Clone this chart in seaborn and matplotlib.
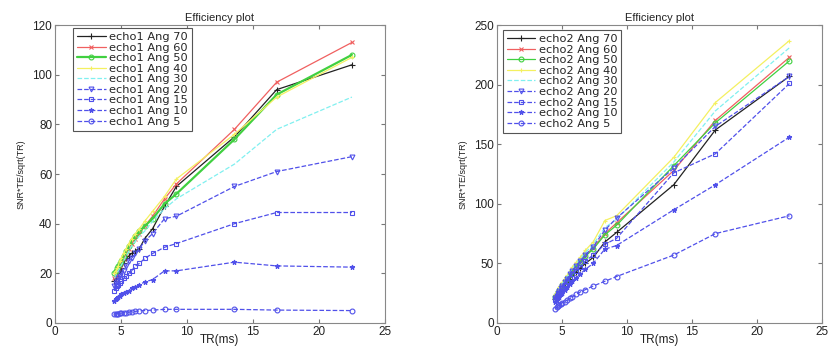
import matplotlib
matplotlib.use("Agg")
import matplotlib.pyplot as plt
import seaborn as sns
import numpy as np

TR = [4.5, 4.6, 4.7, 4.8, 4.9, 5.0, 5.2, 5.4, 5.6, 5.8, 6.1, 6.4, 6.8, 7.4, 8.3, 9.2, 13.6, 16.8, 22.5]
angles = [70, 60, 50, 40, 30, 20, 15, 10, 5]

echo1_ang70 = [17, 18, 19, 20, 21, 22, 24, 26, 27, 28, 29, 30, 34, 38, 47, 55, 75, 94, 104]
echo1_ang60 = [18, 19, 20, 22, 23, 24, 26, 28, 30, 32, 34, 36, 39, 43, 50, 56, 78, 97, 113]
echo1_ang50 = [20, 21, 22, 23, 24, 25, 27, 29, 31, 33, 35, 37, 39, 42, 48, 52, 74, 92, 108]
echo1_ang40 = [20, 21, 22, 23, 25, 26, 28, 30, 32, 34, 36, 38, 41, 45, 51, 58, 76, 91, 107]
echo1_ang30 = [18, 19, 20, 21, 22, 23, 25, 27, 29, 31, 33, 35, 37, 41, 46, 50, 64, 78, 91]
echo1_ang20 = [15, 16, 17, 18, 19, 20, 21, 23, 25, 26, 28, 30, 33, 36, 42, 43, 55, 61, 67]
echo1_ang15 = [13, 14, 15, 15.5, 16, 17, 18, 19, 20, 21, 23, 24, 26, 28, 30.5, 32, 40, 44.5, 44.5]
echo1_ang10 = [9, 9.5, 10, 10.5, 11, 11.5, 12, 12.5, 13, 14, 14.5, 15.5, 16.5, 17.5, 21, 21, 24.5, 23, 22.5]
echo1_ang5 = [3.5, 3.6, 3.7, 3.8, 3.9, 4.0, 4.1, 4.2, 4.4, 4.5, 4.7, 4.9, 5.0, 5.2, 5.5, 5.5, 5.5, 5.2, 5.0]

echo2_ang70 = [20, 21, 23, 25, 26, 28, 31, 34, 37, 40, 43, 46, 50, 55, 68, 76, 116, 162, 207]
echo2_ang60 = [22, 24, 26, 28, 30, 32, 35, 38, 41, 44, 48, 52, 57, 63, 75, 84, 128, 170, 223]
echo2_ang50 = [22, 24, 26, 28, 30, 32, 35, 38, 41, 44, 47, 51, 56, 62, 74, 82, 132, 168, 220]
echo2_ang40 = [24, 26, 28, 30, 32, 34, 37, 40, 43, 47, 51, 55, 61, 68, 86, 90, 139, 185, 237]
echo2_ang30 = [23, 25, 27, 29, 31, 33, 36, 39, 42, 46, 50, 54, 59, 66, 80, 87, 135, 178, 231]
echo2_ang20 = [21, 23, 25, 27, 29, 31, 34, 37, 41, 44, 48, 52, 57, 64, 78, 88, 130, 165, 207]
echo2_ang15 = [20, 22, 24, 25, 27, 29, 32, 35, 38, 41, 44, 47, 52, 57, 66, 71, 126, 142, 201]
echo2_ang10 = [18, 19, 21, 22, 24, 25, 28, 30, 33, 35, 38, 41, 45, 50, 62, 65, 95, 116, 156]
echo2_ang5 = [12, 13, 14, 15, 16, 17, 18, 19, 21, 22, 24, 26, 28, 31, 35, 39, 57, 75, 90]

echo1 = [echo1_ang70, echo1_ang60, echo1_ang50, echo1_ang40, echo1_ang30,
         echo1_ang20, echo1_ang15, echo1_ang10, echo1_ang5]
echo2 = [echo2_ang70, echo2_ang60, echo2_ang50, echo2_ang40, echo2_ang30,
         echo2_ang20, echo2_ang15, echo2_ang10, echo2_ang5]

blue = "#5050ea"
styles = [
    dict(color="#222222", ls="-", marker="+", ms=4, mfc="none"),
    dict(color="#f06060", ls="-", marker="x", ms=2.5, mfc="none"),
    dict(color="#40d040", ls="-", marker="o", ms=3.5, mfc="none"),
    dict(color="#f4f060", ls="-", marker="+", ms=3, mfc="none"),
    dict(color="#80f0f0", ls="--", marker=None, ms=0, mfc="none"),
    dict(color=blue, ls="--", marker="v", ms=3.5, mfc="none"),
    dict(color=blue, ls="--", marker="s", ms=3.5, mfc="none"),
    dict(color=blue, ls="--", marker="*", ms=3.5, mfc=blue),
    dict(color=blue, ls="--", marker="o", ms=3.5, mfc="none"),
]

sns.set_style("ticks")
plt.rcParams["font.family"] = ["Liberation Sans", "DejaVu Sans"]

fig = plt.figure(figsize=(8.29, 3.46), dpi=100)
ax1 = fig.add_axes([0.0663, 0.0665, 0.398, 0.861])
ax2 = fig.add_axes([0.5995, 0.0665, 0.392, 0.861])

for ax, data, name, ymax, yt, anchor in [
        (ax1, echo1, "echo1", 120, range(0, 121, 20), (0.055, 0.99)),
        (ax2, echo2, "echo2", 250, range(0, 251, 50), (0.018, 0.983))]:
    for ang, vals, st in zip(angles, data, styles):
        lw = 1.6 if (st["color"] == "#40d040" and name == "echo1") else 0.9
        sns.lineplot(x=TR, y=vals, ax=ax, color=st["color"], linestyle=st["ls"],
                     marker=st["marker"], markersize=st["ms"], markerfacecolor=st["mfc"],
                     markeredgecolor=st["color"], markeredgewidth=0.8, linewidth=lw,
                     label=f"{name} Ang {ang}", estimator=None, sort=False)
    ax.set_xlim(0, 25)
    ax.set_ylim(0, ymax)
    ax.set_xticks(range(0, 26, 5))
    ax.set_yticks(list(yt))
    ax.tick_params(direction="in", length=3, labelsize=8.5, color="#777777",
                   top=True, right=True, pad=2, labelcolor="#222222")
    for s in ax.spines.values():
        s.set_visible(True)
        s.set_color("#888888")
        s.set_linewidth(0.8)
    ax.set_title("Efficiency plot", fontsize=8, pad=3, color="#222222")
    ax.set_xlabel("TR(ms)", fontsize=8.5, color="#222222")
    ax.xaxis.set_label_coords(0.5, -0.037)
    ax.set_ylabel("SNR*TE/sqrt(TR)", fontsize=6.5, labelpad=5, color="#222222")
    leg = ax.legend(loc="upper left", bbox_to_anchor=anchor, borderaxespad=0,
                    prop={"family": "DejaVu Sans", "size": 8.2},
                    frameon=True, fancybox=False, framealpha=1,
                    borderpad=0.35, labelspacing=0.05, handlelength=2.5,
                    handletextpad=0.3)
    leg.get_frame().set_edgecolor("#555555")
    leg.get_frame().set_linewidth(0.8)

fig.savefig("out.png", dpi=100)
